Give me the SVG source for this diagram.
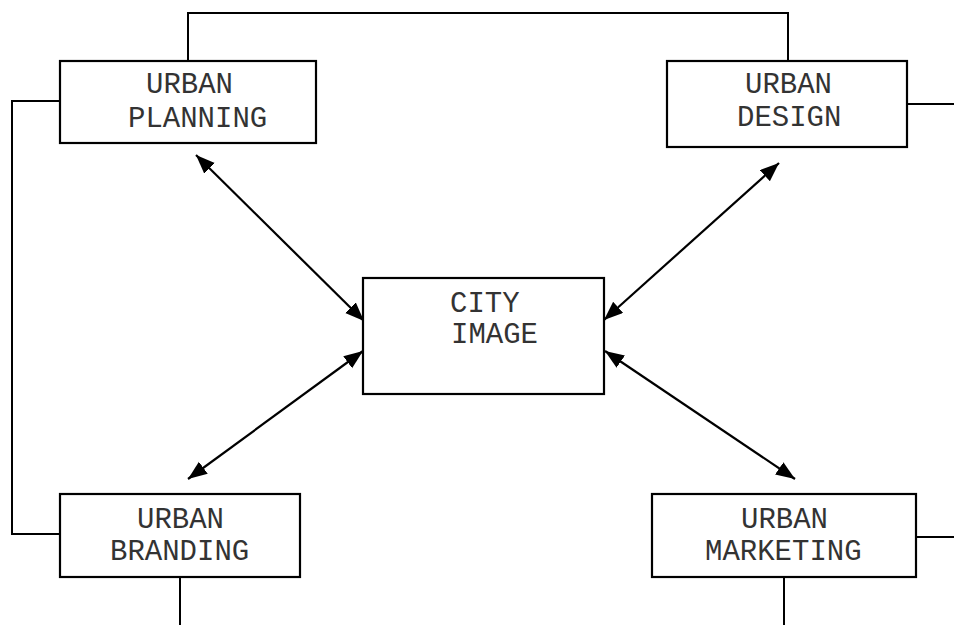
<svg xmlns="http://www.w3.org/2000/svg" width="954" height="625" viewBox="0 0 954 625">
  <style>
    .box { fill: #fff; stroke: #000; stroke-width: 2.2; }
    .lbl { font-family: "Courier New", "Nimbus Mono PS", "FreeMono", "Liberation Mono", monospace; font-size: 29px; fill: #333; }
    .wire { fill: none; stroke: #000; stroke-width: 2; }
    .link { stroke: #000; stroke-width: 2.2; marker-start: url(#head); marker-end: url(#head); }
  </style>
  <defs>
    <marker id="head" markerUnits="userSpaceOnUse" markerWidth="22" markerHeight="18" refX="19" refY="7.5" orient="auto-start-reverse">
      <path d="M0,0 L19,7.5 L0,15 z" fill="#000"/>
    </marker>
  </defs>
  <rect width="954" height="625" fill="#fff"/>

  <g id="connectors">
    <!-- outer wiring between the four outer nodes -->
    <polyline class="wire" points="188,61 188,13 788,13 788,61"/>
    <polyline class="wire" points="60,101 12,101 12,534 60,534"/>
    <line class="wire" x1="907" y1="104" x2="954" y2="104"/>
    <line class="wire" x1="916" y1="537" x2="954" y2="537"/>
    <line class="wire" x1="180" y1="577" x2="180" y2="625"/>
    <line class="wire" x1="784" y1="577" x2="784" y2="625"/>
    <!-- two-way links to the centre -->
    <line class="link" x1="196" y1="155" x2="364" y2="321"/>
    <line class="link" x1="779" y1="163" x2="604" y2="320"/>
    <line class="link" x1="363" y1="351" x2="188" y2="479"/>
    <line class="link" x1="605" y1="351" x2="795" y2="479"/>
  </g>

  <g id="urban-planning">
    <rect class="box" x="60" y="61" width="256" height="82"/>
    <text class="lbl" x="146" y="93">URBAN</text>
    <text class="lbl" x="128" y="127">PLANNING</text>
  </g>

  <g id="urban-design">
    <rect class="box" x="667" y="61" width="240" height="86"/>
    <text class="lbl" x="745" y="93">URBAN</text>
    <text class="lbl" x="737" y="126">DESIGN</text>
  </g>

  <g id="city-image">
    <rect class="box" x="363" y="278" width="241" height="116"/>
    <text class="lbl" x="450" y="312">CITY</text>
    <text class="lbl" x="451" y="343">IMAGE</text>
  </g>

  <g id="urban-branding">
    <rect class="box" x="60" y="494" width="240" height="83"/>
    <text class="lbl" x="137" y="528">URBAN</text>
    <text class="lbl" x="110" y="560">BRANDING</text>
  </g>

  <g id="urban-marketing">
    <rect class="box" x="652" y="494" width="264" height="83"/>
    <text class="lbl" x="741" y="528">URBAN</text>
    <text class="lbl" x="705" y="560">MARKETING</text>
  </g>
</svg>
